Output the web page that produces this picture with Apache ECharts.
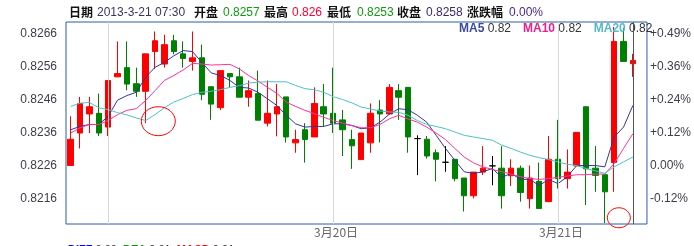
<!DOCTYPE html>
<html><head><meta charset="utf-8">
<script src="https://cdn.jsdelivr.net/npm/echarts@6/dist/echarts.min.js"></script>
<style>html,body{margin:0;padding:0;background:#fff}#c{width:694px;height:246px}</style>
</head><body><div id="c"></div>
<script>
// ---- data ----
const opens  = [0.82260,0.82359,0.82417,0.82419,0.82377,0.82530,0.82558,0.82509,0.82486,0.82607,0.82569,0.82640,0.82600,0.82577,0.82588,0.82500,0.82436,0.82540,0.82530,0.82468,0.82479,0.82389,0.82417,0.82469,0.82329,0.82369,0.82347,0.82439,0.82419,0.82399,0.82339,0.82278,0.82329,0.82429,0.82417,0.82488,0.82498,0.82342,0.82340,0.82299,0.82270,0.82279,0.82222,0.82168,0.82240,0.82259,0.82252,0.82229,0.82252,0.82159,0.82212,0.82150,0.82279,0.82220,0.82259,0.82439,0.82252,0.82232,0.82269,0.82638,0.82570];
const closes = [0.82340,0.82449,0.82439,0.82359,0.82519,0.82540,0.82508,0.82486,0.82600,0.82640,0.82628,0.82607,0.82586,0.82588,0.82477,0.82447,0.82549,0.82530,0.82468,0.82488,0.82398,0.82419,0.82439,0.82347,0.82339,0.82339,0.82449,0.82417,0.82389,0.82369,0.82320,0.82359,0.82419,0.82417,0.82498,0.82468,0.82347,0.82342,0.82289,0.82279,0.82270,0.82220,0.82168,0.82240,0.82252,0.82259,0.82168,0.82252,0.82178,0.82222,0.82129,0.82279,0.82220,0.82240,0.82361,0.82250,0.82230,0.82180,0.82638,0.82577,0.82580];
const lows   = [0.82260,0.82312,0.82359,0.82350,0.82350,0.82530,0.82489,0.82469,0.82389,0.82554,0.82558,0.82599,0.82558,0.82549,0.82459,0.82399,0.82429,0.82498,0.82468,0.82439,0.82398,0.82379,0.82349,0.82330,0.82299,0.82269,0.82347,0.82379,0.82359,0.82289,0.82250,0.82278,0.82299,0.82330,0.82417,0.82399,0.82299,0.82231,0.82281,0.82212,0.82241,0.82212,0.82120,0.82160,0.82231,0.82200,0.82129,0.82198,0.82150,0.82129,0.82129,0.82150,0.82190,0.82190,0.82259,0.82140,0.82180,0.82085,0.82180,0.82577,0.82530];
const highs  = [0.82410,0.82469,0.82469,0.82479,0.82519,0.82638,0.82638,0.82558,0.82600,0.82668,0.82658,0.82658,0.82638,0.82668,0.82628,0.82500,0.82549,0.82540,0.82558,0.82519,0.82549,0.82519,0.82508,0.82469,0.82369,0.82389,0.82498,0.82508,0.82558,0.82429,0.82369,0.82359,0.82449,0.82459,0.82508,0.82508,0.82498,0.82352,0.82350,0.82309,0.82319,0.82279,0.82222,0.82240,0.82319,0.82289,0.82319,0.82279,0.82260,0.82260,0.82269,0.82350,0.82399,0.82309,0.82361,0.82439,0.82319,0.82232,0.82682,0.82679,0.82600];
const ma5  = [0.82369,0.82379,0.82385,0.82385,0.82410,0.82459,0.82473,0.82483,0.82529,0.82559,0.82574,0.82594,0.82610,0.82607,0.82574,0.82542,0.82534,0.82519,0.82498,0.82496,0.82483,0.82463,0.82443,0.82413,0.82387,0.82377,0.82379,0.82379,0.82387,0.82387,0.82382,0.82372,0.82375,0.82392,0.82416,0.82433,0.82430,0.82413,0.82392,0.82352,0.82312,0.82276,0.82241,0.82236,0.82241,0.82251,0.82224,0.82236,0.82218,0.82218,0.82199,0.82218,0.82205,0.82226,0.82260,0.82260,0.82260,0.82256,0.82347,0.82377,0.82443];
const ma10 = [0.82359,0.82375,0.82385,0.82385,0.82397,0.82415,0.82428,0.82433,0.82458,0.82488,0.82519,0.82534,0.82551,0.82571,0.82569,0.82566,0.82567,0.82568,0.82554,0.82534,0.82517,0.82498,0.82480,0.82453,0.82440,0.82428,0.82418,0.82407,0.82397,0.82389,0.82382,0.82375,0.82375,0.82385,0.82402,0.82413,0.82402,0.82392,0.82377,0.82359,0.82339,0.82312,0.82286,0.82268,0.82256,0.82248,0.82241,0.82234,0.82226,0.82220,0.82218,0.82220,0.82224,0.82228,0.82232,0.82232,0.82234,0.82234,0.82266,0.82312,0.82357];
const ma20 = [0.82440,0.82450,0.82452,0.82436,0.82430,0.82421,0.82414,0.82405,0.82397,0.82415,0.82436,0.82453,0.82464,0.82476,0.82483,0.82486,0.82491,0.82498,0.82503,0.82511,0.82514,0.82515,0.82515,0.82515,0.82504,0.82494,0.82491,0.82483,0.82470,0.82461,0.82451,0.82438,0.82432,0.82426,0.82423,0.82422,0.82413,0.82397,0.82385,0.82379,0.82372,0.82362,0.82352,0.82347,0.82342,0.82337,0.82322,0.82312,0.82301,0.82291,0.82284,0.82278,0.82271,0.82264,0.82260,0.82251,0.82244,0.82236,0.82256,0.82271,0.82286];

const slotCount = 62;                 // 61 bars + one empty slot
const categories = [];
for (let i = 0; i < slotCount; i++) categories.push('K' + i);
const xLabelIndex = [28, 52];
const xLabels = ['3月20日', '3月21日'];
const xGridIndex = [4, 28, 52];
const priceTicks = [0.8216, 0.8226, 0.8236, 0.8246, 0.8256, 0.8266];
const pctLabels = ['-0.12%', '0.00%', '+0.12%', '+0.24%', '+0.36%', '+0.49%'];
const basePrice = 0.8226;
const crossIndex = 60;
const crossPrice = 0.8257;
const headerTime = '2013-3-21 07:30';
const headerChange = '0.00%';
const macdText = [['DIFF', '0.00'], ['DEA', '0.01'], ['MACD', '0.01']];
const yMin = 0.82082, yMax = 0.82697;

// ---- chart ----
const chart = echarts.init(document.getElementById('c'));
const candleData = opens.map((o, i) => [o, closes[i], lows[i], highs[i]]);
const fmt = v => String(+v.toFixed(4));
const last = a => a[a.length - 1];
const latin = 'Arial, "Liberation Sans", sans-serif';
const cjk = '"Noto Sans CJK SC", sans-serif';
const maColors = { MA5: '#333399', MA10: '#ff3399', MA20: '#4fc0c8' };
const maText = { MA5: '#3b4aa0', MA10: '#e8208c', MA20: '#55b8cc' };
const maData = { MA5: ma5, MA10: ma10, MA20: ma20 };

const option = {
  animation: false,
  textStyle: { fontFamily: latin },
  grid: { left: 66, top: 22, right: 46, bottom: 22, show: true, borderColor: '#2e5ca8', borderWidth: 1, backgroundColor: 'transparent' },
  legend: {
    left: 454, top: 23, itemWidth: 0, itemHeight: 0, itemGap: 7, padding: 0,
    selectedMode: false,
    data: ['MA5', 'MA10', 'MA20'].map(n => ({ name: n, icon: 'none' })),
    formatter: n => `{${n}|${n}} {v|${last(maData[n]).toFixed(2)}}`,
    textStyle: {
      fontSize: 12, fontFamily: latin,
      rich: {
        MA5: { color: maText.MA5, fontSize: 12, fontFamily: latin, fontWeight: 'bold' },
        MA10: { color: maText.MA10, fontSize: 12, fontFamily: latin, fontWeight: 'bold' },
        MA20: { color: maText.MA20, fontSize: 12, fontFamily: latin, fontWeight: 'bold' },
        v: { color: '#333', fontSize: 12, fontFamily: latin }
      }
    }
  },
  xAxis: {
    type: 'category', data: categories, boundaryGap: true,
    axisLine: { show: false }, axisTick: { show: false }, splitLine: { show: false },
    axisLabel: {
      interval: (i) => xLabelIndex.includes(i),
      formatter: (v, i) => xLabels[xLabelIndex.indexOf(i)] || '',
      color: '#666', fontSize: 12, fontFamily: cjk, margin: 2, padding: [0, 0, 0, 6]
    }
  },
  yAxis: [
    {
      type: 'value', min: yMin, max: yMax, scale: true, position: 'left',
      axisLine: { show: false }, axisTick: { show: false, customValues: priceTicks }, splitLine: { show: false },
      axisLabel: { customValues: priceTicks, formatter: v => v.toFixed(4), color: '#3d3d4a', fontSize: 12, fontFamily: latin, margin: 9 }
    },
    {
      type: 'value', min: yMin, max: yMax, scale: true, position: 'right',
      axisLine: { show: false }, axisTick: { show: false, customValues: priceTicks }, splitLine: { show: false },
      axisLabel: {
        customValues: priceTicks,
        formatter: v => { const k = priceTicks.findIndex(p => Math.abs(p - v) < 1e-7); return k >= 0 ? pctLabels[k] : ''; },
        color: '#3d3d4a', fontSize: 12, fontFamily: latin, margin: 3
      }
    }
  ],
  series: [
    {
      name: 'grid', type: 'line', data: [], z: 1, silent: true,
      markLine: {
        silent: true, symbol: ['none', 'none'], label: { show: false }, animation: false,
        lineStyle: { color: '#d8d8d8', type: 'solid', width: 1 },
        data: [...xGridIndex.map(i => ({ xAxis: i })), ...priceTicks.map(p => ({ yAxis: p }))]
      }
    },
    {
      name: 'K', type: 'candlestick', data: candleData, barWidth: 6, z: 3,
      itemStyle: { color: '#ff0000', color0: '#008000', borderColor: '#ff0000', borderColor0: '#008000', borderColorDoji: '#000000', borderWidth: 1 }
    },
    ...['MA5', 'MA10', 'MA20'].map(n => ({
      name: n, type: 'line', data: maData[n], symbol: 'none', z: 4, silent: true,
      lineStyle: { color: maColors[n], width: 1 }, itemStyle: { color: maColors[n] }
    })),
    {
      name: 'cross', type: 'line', data: [], z: 5, silent: true,
      markLine: {
        silent: true, symbol: ['none', 'none'], label: { show: false }, animation: false,
        data: [
          { yAxis: basePrice, lineStyle: { color: '#666633', type: 'solid', width: 1 } },
          { yAxis: crossPrice, lineStyle: { color: '#555555', type: 'solid', width: 1 } },
          { xAxis: crossIndex, lineStyle: { color: '#555555', type: 'solid', width: 1 } }
        ]
      }
    }
  ]
};
chart.setOption(option);

// header pieces (text, style key) and their left edges
const li = opens.length - 1;
const headerPieces = [
  ['日期', 'l'], [headerTime, 'd'], ['开盘', 'l'], [fmt(opens[li]), 'g'], ['最高', 'l'], [fmt(highs[li]), 'r'],
  ['最低', 'l'], [fmt(lows[li]), 'g'], ['收盘', 'l'], [fmt(closes[li]), 'c'], ['涨跌幅', 'l'], [headerChange, 'p']
];
const headerX = [69, 97, 194, 223, 264, 292, 327, 357, 397, 426, 467, 509];
const headerStyle = {
  l: { font: 'bold 12px ' + cjk, fill: '#111' },
  d: { font: '12px ' + latin, fill: '#3a3560' },
  g: { font: '12px ' + latin, fill: '#119911' },
  r: { font: '12px ' + latin, fill: '#ff0033' },
  c: { font: '12px ' + latin, fill: '#3a2a66' },
  p: { font: '12px ' + latin, fill: '#4a2a80' }
};
const headerEls = headerPieces.map((p, i) => ({
  type: 'text', x: headerX[i], y: 12.5, silent: true,
  style: Object.assign({ text: p[0], textVerticalAlign: 'middle', textAlign: 'left' }, headerStyle[p[1]])
}));
const macdColors = ['#0000ff', '#009900', '#ff0000'];
const footer = {
  type: 'text', left: 68, top: 244, silent: true,
  style: {
    text: macdText.map((m, i) => `{n${i}|${m[0]}} {v|${m[1]}}`).join('  '),
    font: '11px ' + latin,
    rich: {
      n0: { fill: macdColors[0], fontSize: 11, fontWeight: 'bold' },
      n1: { fill: macdColors[1], fontSize: 11, fontWeight: 'bold' },
      n2: { fill: macdColors[2], fontSize: 11, fontWeight: 'bold' },
      v: { fill: '#333', fontSize: 11 }
    }
  }
};
function px(idx, price) {
  const i0 = Math.floor(idx), f = idx - i0;
  const a = chart.convertToPixel({ gridIndex: 0 }, [i0, price]);
  const b = chart.convertToPixel({ gridIndex: 0 }, [i0 + 1, price]);
  return [a[0] + (b[0] - a[0]) * f, a[1]];
}
// annotation circles anchored to data coordinates
const notes = [ { idx: 9.35, price: 0.82395, rx: 17, ry: 14.5 }, { idx: 58.5, price: 0.82101, rx: 11.5, ry: 10 } ];
const ellipses = notes.map(n => {
  const c = px(n.idx, n.price);
  return { type: 'ellipse', shape: { cx: c[0], cy: c[1], rx: n.rx, ry: n.ry }, style: { fill: 'none', stroke: '#ff0000', lineWidth: 1 }, z: 100, silent: true };
});
chart.setOption({ graphic: [...headerEls, footer, ...ellipses] });
</script>
</body></html>
